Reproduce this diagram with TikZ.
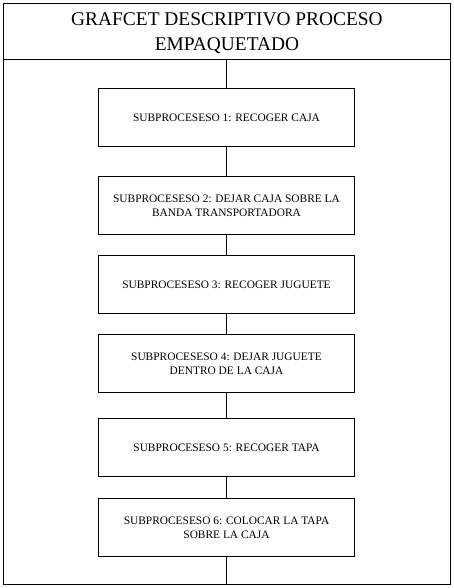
\documentclass[tikz,border=0pt]{standalone}
\usepackage{fontspec}
\setmainfont{Liberation Serif}
\begin{document}
\begin{tikzpicture}[x=1pt,y=-1pt,
  stepbox/.style={draw,line width=1.2pt,minimum width=256pt,minimum height=58pt,align=center,inner sep=0pt,font=\fontsize{11.4}{14}\selectfont},
  link/.style={line width=1.2pt}]
\useasboundingbox (0,0) rectangle (454,588);
\draw[line width=1.4pt] (3.5,3.5) rectangle (450.5,584.5);
\draw[line width=1.2pt] (3.5,59.5) -- (450.5,59.5);
\node[align=center,font=\fontsize{19.4}{25}\selectfont] (title) at (227,33) {GRAFCET DESCRIPTIVO PROCESO\\EMPAQUETADO};
\coordinate (top) at (226.5,59.5);
\coordinate (bot) at (226.5,584.5);
\node[stepbox] (s1) at (226.5,117.5) {SUBPROCESESO 1: RECOGER CAJA};
\node[stepbox] (s2) at (226.5,205.5) {SUBPROCESESO 2: DEJAR CAJA SOBRE LA\\BANDA TRANSPORTADORA};
\node[stepbox] (s3) at (226.5,284.5) {SUBPROCESESO 3: RECOGER JUGUETE};
\node[stepbox] (s4) at (226.5,363.5) {SUBPROCESESO 4: DEJAR JUGUETE\\DENTRO DE LA CAJA};
\node[stepbox] (s5) at (226.5,447.5) {SUBPROCESESO 5: RECOGER TAPA};
\node[stepbox] (s6) at (226.5,527.5) {SUBPROCESESO 6: COLOCAR LA TAPA\\SOBRE LA CAJA};
\draw[link] (top) -- (s1.north);
\draw[link] (s1) -- (s2);
\draw[link] (s2) -- (s3);
\draw[link] (s3) -- (s4);
\draw[link] (s4) -- (s5);
\draw[link] (s5) -- (s6);
\draw[link] (s6.south) -- (bot);
\end{tikzpicture}
\end{document}
